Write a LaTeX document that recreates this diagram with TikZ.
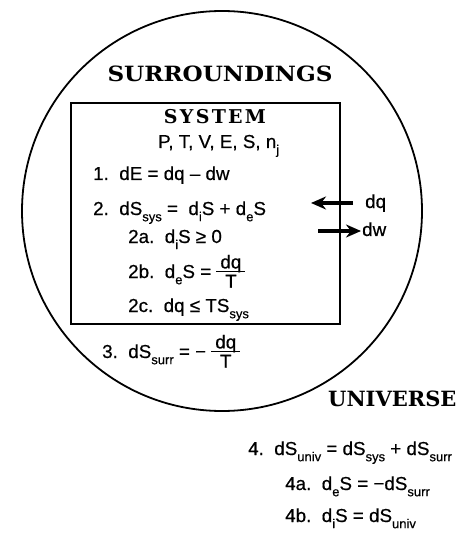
\documentclass[tikz,border=0pt]{standalone}
\usepackage{fontspec}
\setmainfont{Liberation Sans}[FakeBold=0.5]
\newfontfamily\headfont{DejaVu Serif}
\newfontfamily\sysfont[LetterSpace=12]{DejaVu Serif}
\usetikzlibrary{arrows.meta}
\newcommand\sbs[1]{\raisebox{-0.33em}{\fontsize{13}{13}\selectfont #1}}
\setlength{\arrayrulewidth}{1.3pt}
\newcommand\frc[2]{$\vcenter{\hbox{\begin{tabular}{@{\hspace{4pt}}c@{\hspace{4pt}}}#1\\[-4pt]\hline\rule{0pt}{14pt}#2\end{tabular}}}$}
\begin{document}
\begin{tikzpicture}[x=1pt,y=-1pt,
  eq/.style={anchor=base west, inner sep=0pt, font=\fontsize{18.8}{22}\selectfont},
  head/.style={anchor=base, inner sep=0pt, font=\headfont\bfseries\fontsize{21}{24}\selectfont},
  flow/.style={line width=3.5pt, -{Stealth[length=15pt,width=13pt]}},
  outline/.style={line width=1.8pt}]
\useasboundingbox (0,0) rectangle (457,534);
\draw[outline] (222,211) circle[radius=200pt];
\node[outline, draw, minimum width=269pt, minimum height=221pt, anchor=north west, inner sep=0pt] (sys) at (70,102) {};
\node[head] (surr) at (220,82) {\scalebox{1.1}[1]{SURROUNDINGS}};
\node[anchor=base, inner sep=0pt, font=\sysfont\bfseries\fontsize{19}{22}\selectfont] (systitle) at (215,124) {SYSTEM};
\node[eq] (vars) at (158,148) {P, T, V, E, S, n\sbs{j}};
\node[eq] (e1) at (93,180) {1.\ \ dE = dq -- dw};
\node[eq] (e2) at (93,215) {2.\ \ dS\sbs{sys} = \ d\sbs{i}S + d\sbs{e}S};
\node[eq] (e2a) at (128,243) {2a.\ \ d\sbs{i}S ≥ 0};
\node[eq] (e2b) at (128,278) {2b.\ \ d\sbs{e}S = \frc{dq}{T}};
\node[eq] (e2c) at (128,312) {2c.\ \ dq ≤ TS\sbs{sys}};
\node[eq] (e3) at (102,358) {3.\ \ dS\sbs{surr} = − \frc{dq}{T}};
\node[head, anchor=base west] (univ) at (328,406) {UNIVERSE};
\node[eq] (e4) at (248,455) {4.\ \ dS\sbs{univ} = dS\sbs{sys} + dS\sbs{surr}};
\node[eq] (e4a) at (285,490) {4a.\ \ d\sbs{e}S = −dS\sbs{surr}};
\node[eq] (e4b) at (285,522) {4b.\ \ d\sbs{i}S = dS\sbs{univ}};
\node[eq] (dq) at (365,208) {dq};
\node[eq] (dw) at (362,236) {dw};
\coordinate (qs) at (353,203);
\coordinate (qe) at (311,203);
\coordinate (ws) at (318,231);
\coordinate (we) at (361,231);
\draw[flow] (qs) -- (qe);
\draw[flow] (ws) -- (we);
\end{tikzpicture}
\end{document}
